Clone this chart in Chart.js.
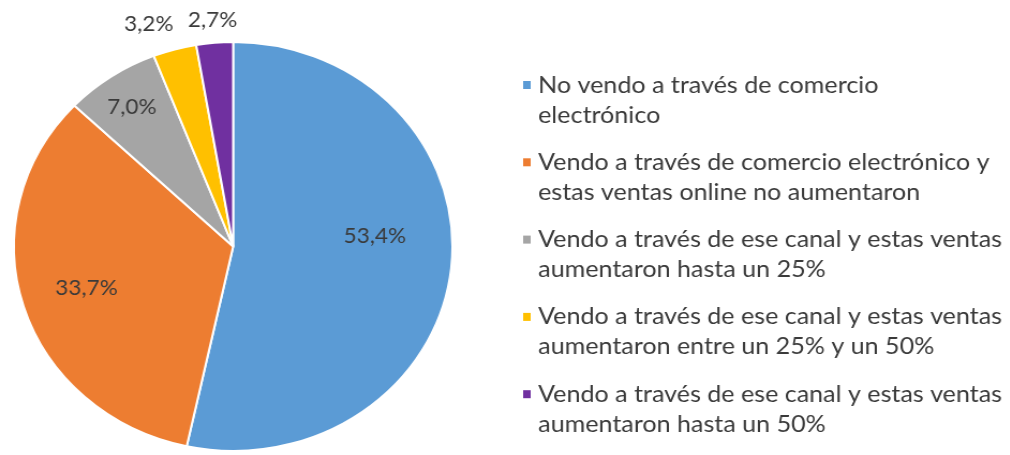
<!DOCTYPE html>
<html>
<head>
<meta charset="utf-8">
<script src="https://cdn.jsdelivr.net/npm/chart.js@4.4.1/dist/chart.umd.min.js"></script>
<style>
  html, body { margin: 0; padding: 0; background: #fff; overflow: hidden; }
  /* the reference pie is slightly wider than tall, so the whole drawing is stretched a bit */
  #wrap { width: 942px; height: 455px; transform: scaleX(1.072); transform-origin: 0 0; }
</style>
</head>
<body>
<div id="wrap"><canvas id="pie" width="942" height="455"></canvas></div>
<script>
// ---- data ----
const CATEGORIES = [
  ['No vendo a través de comercio', 'electrónico'],
  ['Vendo a través de comercio electrónico y', 'estas ventas online no aumentaron'],
  ['Vendo a través de ese canal y estas ventas', 'aumentaron hasta un 25%'],
  ['Vendo a través de ese canal y estas ventas', 'aumentaron entre un 25% y un 50%'],
  ['Vendo a través de ese canal y estas ventas', 'aumentaron hasta un 50%'],
];
const VALUES = [53.4, 33.7, 7.0, 3.2, 2.7];
const COLORS = ['#5B9BD5', '#ED7D31', '#A5A5A5', '#FFC000', '#7030A0'];

// ---- style ----
const TEXT = '#3a3a3a';
const FONT = 'Lato, "Open Sans", sans-serif';
const fmtPct = (v) => v.toFixed(1).replace('.', ',') + '%';
// label distance from centre, as a share of the radius (last two sit outside)
const LABEL_R = [0.65, 0.70, 0.83, 1.13, 1.11];
const LABEL_DX = [0, 0, 0, -17, 0];
const LABEL_DY = [-24, 0, 2, 0, 0];

const pieLabels = {
  id: 'pieLabels',
  afterDatasetsDraw(chart) {
    const ctx = chart.ctx;
    const arcs = chart.getDatasetMeta(0).data;
    ctx.save();
    ctx.font = '21px ' + FONT;
    ctx.fillStyle = TEXT;
    ctx.textAlign = 'center';
    ctx.textBaseline = 'middle';
    arcs.forEach((arc, i) => {
      const p = arc.getProps(['x', 'y', 'startAngle', 'endAngle', 'outerRadius'], true);
      const mid = (p.startAngle + p.endAngle) / 2;
      const r = p.outerRadius * LABEL_R[i];
      ctx.fillText(fmtPct(VALUES[i]), p.x + Math.cos(mid) * r + LABEL_DX[i], p.y + Math.sin(mid) * r + LABEL_DY[i]);
    });
    ctx.restore();
  },
};

// legend on the right, two lines per entry
const sideLegend = {
  id: 'sideLegend',
  afterDraw(chart) {
    const ctx = chart.ctx;
    const x0 = 488, y0 = 85, itemGap = 77.3, lineGap = 30;
    ctx.save();
    ctx.font = '23.4px ' + FONT;
    ctx.textBaseline = 'middle';
    CATEGORIES.forEach((lines, i) => {
      const y = y0 + i * itemGap;
      ctx.fillStyle = COLORS[i];
      ctx.fillRect(x0, y - 4, 7, 8);
      ctx.fillStyle = TEXT;
      lines.forEach((t, j) => ctx.fillText(t, x0 + 14, y + j * lineGap));
    });
    ctx.restore();
  },
};

new Chart(document.getElementById('pie'), {
  type: 'pie',
  data: {
    labels: CATEGORIES,
    datasets: [{ data: VALUES, backgroundColor: COLORS, borderColor: '#fff', borderWidth: 2 }],
  },
  options: {
    responsive: false,
    animation: false,
    layout: { padding: { left: 12, top: 41, right: 519, bottom: 3 } },
    plugins: { legend: { display: false }, tooltip: { enabled: false } },
  },
  plugins: [pieLabels, sideLegend],
});
</script>
</body>
</html>
